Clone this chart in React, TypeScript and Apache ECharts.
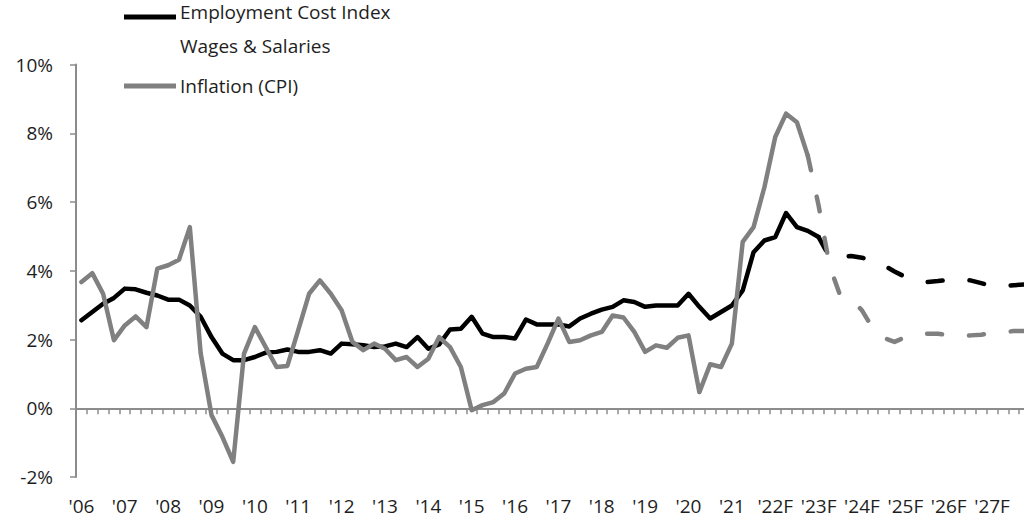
import React, { useEffect, useRef } from "react";
import * as echarts from "echarts";

const YEAR_LABELS = [
  "'06", "'07", "'08", "'09", "'10", "'11", "'12", "'13", "'14", "'15", "'16",
  "'17", "'18", "'19", "'20", "'21", "'22F", "'23F", "'24F", "'25F", "'26F", "'27F",
];
const QUARTERS = ["Q1", "Q2", "Q3", "Q4"];
const CATEGORIES = YEAR_LABELS.flatMap((y) => QUARTERS.map((q) => `${y} ${q}`));

const Y_TICKS = [-2, 0, 2, 4, 6, 8, 10];

// Employment Cost Index, Wages & Salaries (YoY %), actual: 2006Q1 .. 2023Q1
const ECI_ACTUAL = [
  2.56, 2.8, 3.04, 3.21, 3.48, 3.46, 3.36, 3.28, 3.16, 3.16, 2.99, 2.66,
  2.07, 1.59, 1.4, 1.4, 1.49, 1.62, 1.64, 1.71, 1.64, 1.64, 1.69, 1.59,
  1.88, 1.86, 1.83, 1.78, 1.8, 1.88, 1.78, 2.07, 1.73, 1.86, 2.29, 2.31,
  2.66, 2.17, 2.07, 2.07, 2.03, 2.58, 2.44, 2.44, 2.44, 2.38, 2.61, 2.75,
  2.87, 2.95, 3.14, 3.09, 2.95, 2.99, 2.99, 2.99, 3.33, 2.95, 2.61, 2.8,
  2.99, 3.43, 4.54, 4.88, 4.98, 5.68, 5.27, 5.16, 4.98,
];
// forecast: 2023Q1 .. 2027Q4
const ECI_FORECAST = [
  4.98, 4.4, 4.4, 4.43, 4.38, 4.28, 4.16, 3.98, 3.82, 3.74, 3.67, 3.7,
  3.74, 3.76, 3.72, 3.64, 3.55, 3.55, 3.58, 3.6,
];

// Inflation (CPI, YoY %), actual: 2006Q1 .. 2022Q4
const CPI_ACTUAL = [
  3.67, 3.93, 3.33, 1.98, 2.41, 2.67, 2.36, 4.06, 4.16, 4.32, 5.27, 1.6,
  -0.2, -0.83, -1.56, 1.59, 2.36, 1.78, 1.2, 1.23, 2.27, 3.33, 3.72, 3.33,
  2.85, 1.93, 1.69, 1.88, 1.73, 1.4, 1.49, 1.2, 1.44, 2.07, 1.78, 1.2,
  -0.06, 0.09, 0.18, 0.43, 1.01, 1.15, 1.2, 1.88, 2.61, 1.93, 1.98, 2.12,
  2.22, 2.7, 2.64, 2.22, 1.64, 1.83, 1.76, 2.05, 2.12, 0.47, 1.28, 1.2,
  1.88, 4.84, 5.27, 6.43, 7.89, 8.57, 8.32, 7.35,
];
// forecast: 2022Q4 .. 2027Q4
const CPI_FORECAST = [
  7.35, 5.9, 4.16, 3.27, 3.16, 2.85, 2.32, 2.05, 1.93, 2.07, 2.15, 2.17,
  2.17, 2.12, 2.12, 2.12, 2.14, 2.19, 2.2, 2.25, 2.25,
];

const SERIES_NAMES = ["Employment Cost Index", "Wages & Salaries", "Inflation (CPI)"];

const FONT = "'Open Sans', 'Noto Sans', sans-serif";
const AXIS_COLOR = "#8c8c8c";
const TEXT_COLOR = "#1e1e1e";
const ECI_COLOR = "#000000";
const CPI_COLOR = "#808080";

function pad(values: number[], start: number, total: number) {
  const out: (number | null)[] = new Array(total).fill(null);
  values.forEach((v, i) => {
    out[start + i] = v;
  });
  return out;
}

export default function App() {
  const ref = useRef<HTMLDivElement>(null);

  useEffect(() => {
    if (!ref.current) return;
    const chart = echarts.init(ref.current, null, { renderer: "svg" });
    const n = CATEGORIES.length;
    const lineBase = { width: 4.5, join: "round", cap: "round" };

    chart.setOption({
      animation: false,
      backgroundColor: "#ffffff",
      textStyle: { fontFamily: FONT },
      grid: {
        left: 76,
        top: 64.5,
        width: 954,
        height: 412.5,
        containLabel: false,
        outerBoundsMode: "none",
      },
      xAxis: [
        {
          type: "category",
          data: CATEGORIES,
          boundaryGap: true,
          axisLine: { onZero: true, lineStyle: { color: AXIS_COLOR, width: 2 } },
          axisTick: { show: true, interval: 0, length: 6, lineStyle: { color: AXIS_COLOR, width: 1.5 } },
          axisLabel: { show: false },
          splitLine: { show: false },
        },
        {
          type: "category",
          data: CATEGORIES,
          position: "bottom",
          boundaryGap: true,
          axisLine: { show: false, onZero: false },
          axisTick: { show: false },
          axisLabel: {
            interval: 3,
            margin: 19,
            fontSize: 19,
            color: TEXT_COLOR,
            fontFamily: FONT,
            formatter: (v: string) => v.split(" ")[0],
          },
          splitLine: { show: false },
        },
      ],
      yAxis: {
        type: "value",
        min: Y_TICKS[0],
        max: Y_TICKS[Y_TICKS.length - 1],
        interval: 2,
        axisLine: { show: true, lineStyle: { color: AXIS_COLOR, width: 2 } },
        axisTick: { show: true, length: 6, lineStyle: { color: AXIS_COLOR, width: 1.5 } },
        axisLabel: {
          margin: 23,
          fontSize: 19,
          color: TEXT_COLOR,
          fontFamily: FONT,
          formatter: "{value}%",
        },
        splitLine: { show: false },
      },
      series: [
        {
          name: SERIES_NAMES[0],
          type: "line",
          data: pad(ECI_ACTUAL, 0, n),
          showSymbol: false,
          symbol: "none",
          lineStyle: { ...lineBase, color: ECI_COLOR, type: "solid" },
          z: 2,
        },
        {
          name: SERIES_NAMES[0] + " forecast",
          type: "line",
          data: pad(ECI_FORECAST, ECI_ACTUAL.length - 1, n),
          showSymbol: false,
          symbol: "none",
          lineStyle: { ...lineBase, color: ECI_COLOR, type: [15, 27] },
          z: 2,
        },
        {
          name: SERIES_NAMES[2],
          type: "line",
          data: pad(CPI_ACTUAL, 0, n),
          showSymbol: false,
          symbol: "none",
          lineStyle: { ...lineBase, color: CPI_COLOR, type: "solid" },
          z: 3,
        },
        {
          name: SERIES_NAMES[2] + " forecast",
          type: "line",
          data: pad(CPI_FORECAST, CPI_ACTUAL.length - 1, n),
          showSymbol: false,
          symbol: "none",
          lineStyle: { ...lineBase, color: CPI_COLOR, type: [15, 27] },
          z: 3,
        },
      ],
      graphic: [
        {
          type: "line",
          shape: { x1: 124, y1: 17, x2: 176, y2: 17 },
          style: { stroke: ECI_COLOR, lineWidth: 5 },
        },
        {
          type: "text",
          x: 180,
          y: 12,
          style: { text: SERIES_NAMES[0], font: `19px ${FONT}`, fill: TEXT_COLOR, verticalAlign: "middle" },
        },
        {
          type: "text",
          x: 180,
          y: 45.5,
          style: { text: SERIES_NAMES[1], font: `19px ${FONT}`, fill: TEXT_COLOR, verticalAlign: "middle" },
        },
        {
          type: "line",
          shape: { x1: 124, y1: 86, x2: 176, y2: 86 },
          style: { stroke: CPI_COLOR, lineWidth: 5 },
        },
        {
          type: "text",
          x: 180,
          y: 85.5,
          style: { text: SERIES_NAMES[2], font: `19px ${FONT}`, fill: TEXT_COLOR, verticalAlign: "middle" },
        },
      ],
    });

    return () => chart.dispose();
  }, []);

  return (
    <div
      ref={ref}
      style={{ position: "fixed", left: 0, top: 0, width: 1024, height: 524, background: "#fff" }}
    />
  );
}
